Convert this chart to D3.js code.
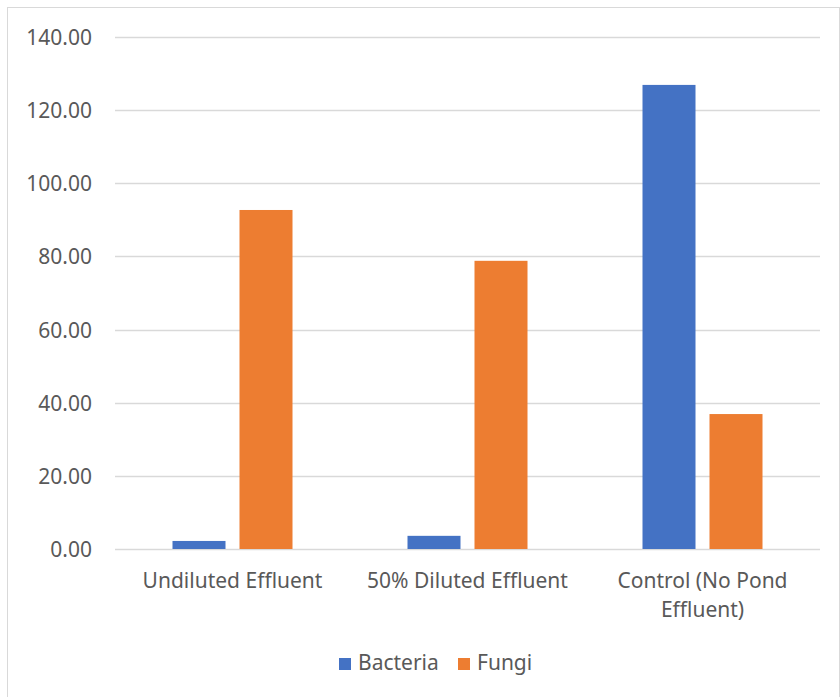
<!DOCTYPE html>
<html><head><meta charset="utf-8">
<script src="https://cdn.jsdelivr.net/npm/d3@7"></script>
<style>body{margin:0;background:#fff}svg{display:block}text{font-family:"Noto Sans",sans-serif;fill:#595959}</style>
</head><body>
<script>
const categories = ["Undiluted Effluent", "50% Diluted Effluent", "Control (No Pond Effluent)"];
const categoryLines = [["Undiluted Effluent"], ["50% Diluted Effluent"], ["Control (No Pond", "Effluent)"]];
const seriesNames = ["Bacteria", "Fungi"];
const bacteria = [2.2, 3.6, 126.9];
const fungi = [92.7, 78.8, 36.9];
const yTicks = [0, 20, 40, 60, 80, 100, 120, 140];
const colors = ["#4472C4", "#ED7D31"];

(function () {
const W = 840, H = 697, FS = "21px";
const svg = d3.select("body").append("svg").attr("width", W).attr("height", H);
svg.append("rect").attr("x", 7.5).attr("y", 7.5).attr("width", W - 8).attr("height", H).attr("fill", "#fff").attr("stroke", "#d9d9d9");

const pl = 115, pr = 820, pt = 37, pb = 549;
const x = d3.scaleBand().domain(categories).range([pl, pr]).paddingInner(0).paddingOuter(0);
const y = d3.scaleLinear().domain([0, 140]).range([pb, pt]);

const grid = svg.append("g");
grid.selectAll("line").data(yTicks).join("line")
  .attr("x1", pl).attr("x2", pr)
  .attr("y1", d => Math.round(y(d)) + 0.5).attr("y2", d => Math.round(y(d)) + 0.5)
  .attr("stroke", "#d9d9d9").attr("stroke-width", 1.3);

const yAxis = svg.append("g").attr("transform", `translate(92,0)`)
  .call(d3.axisLeft(y).tickValues(yTicks).tickFormat(d3.format(".2f")).tickSize(0).tickPadding(0));
yAxis.select(".domain").remove();
yAxis.selectAll("text").style("font-size", FS).attr("dy", "0.36em").attr("fill", "#595959").attr("font-family", '"Noto Sans",sans-serif');

const barW = 53, gap = 14;
const series = [bacteria, fungi];
series.forEach((vals, si) => {
  svg.append("g").selectAll("rect").data(vals).join("rect")
    .attr("x", (d, i) => x(categories[i]) + x.bandwidth() / 2 - (barW + gap / 2) + si * (barW + gap))
    .attr("width", barW)
    .attr("y", d => y(d))
    .attr("height", d => y(0) - y(d))
    .attr("fill", colors[si]);
});

categories.forEach((c, i) => {
  const cx = x(c) + x.bandwidth() / 2;
  const t = svg.append("text").attr("text-anchor", "middle")
    .attr("x", cx).attr("y", 588).style("font-size", FS);
  categoryLines[i].forEach((ln, j) => t.append("tspan").attr("x", cx).attr("dy", j ? 29 : 0).text(ln));
});

const legend = svg.append("g");
const lx = [339, 458];
seriesNames.forEach((s, i) => {
  legend.append("rect").attr("x", lx[i]).attr("y", 658).attr("width", 12).attr("height", 12).attr("fill", colors[i]);
  legend.append("text").attr("x", lx[i] + 19).attr("y", 670).style("font-size", FS).text(s);
});
})();
</script>
</body></html>
